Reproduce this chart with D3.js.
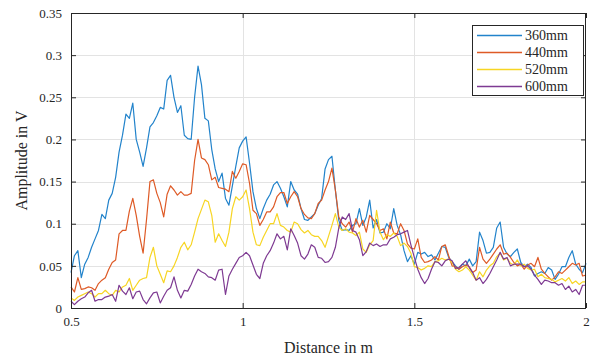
<!DOCTYPE html>
<html>
<head>
<meta charset="utf-8">
<script src="https://cdn.jsdelivr.net/npm/d3@7"></script>
<style>
  body { margin: 0; background: #fff; }
  svg text { font-family: "Liberation Serif", "Times New Roman", serif; fill: #262626; }
  .grid line { stroke: #e3e3e3; stroke-width: 1; }
  .series { fill: none; stroke-width: 1.2; stroke-linejoin: round; }
</style>
</head>
<body>
<div id="chart"></div>
<script>
// sampling step of the distance axis, in m
var step = 0.01;
var startDist = 0.5;

var seriesNames = ['360mm', '440mm', '520mm', '600mm'];
var seriesColors = ['#2283cb', '#de5a26', '#f7d523', '#7e3a92'];

var amp360 = [
  0.042, 0.062, 0.068, 0.036, 0.052, 0.060, 0.072, 0.082, 0.092, 0.111,
  0.106, 0.128, 0.136, 0.155, 0.185, 0.205, 0.230, 0.225, 0.243, 0.200,
  0.185, 0.168, 0.190, 0.215, 0.220, 0.228, 0.238, 0.236, 0.270, 0.276,
  0.250, 0.232, 0.240, 0.205, 0.201, 0.200, 0.250, 0.287, 0.265, 0.225,
  0.222, 0.188, 0.165, 0.150, 0.160, 0.130, 0.122, 0.145, 0.168, 0.190,
  0.198, 0.203, 0.172, 0.138, 0.118, 0.106, 0.118, 0.128, 0.135, 0.146,
  0.150, 0.142, 0.132, 0.120, 0.150, 0.140, 0.135, 0.118, 0.105, 0.104,
  0.108, 0.112, 0.122, 0.130, 0.165, 0.176, 0.180, 0.140, 0.104, 0.092,
  0.093, 0.092, 0.098, 0.100, 0.118, 0.098, 0.108, 0.128, 0.095, 0.105,
  0.089, 0.090, 0.100, 0.094, 0.118, 0.098, 0.087, 0.068, 0.055, 0.062,
  0.052, 0.066, 0.064, 0.066, 0.061, 0.063, 0.057, 0.065, 0.073, 0.072,
  0.060, 0.055, 0.050, 0.046, 0.052, 0.050, 0.058, 0.050, 0.055, 0.090,
  0.080, 0.065, 0.066, 0.072, 0.095, 0.102, 0.072, 0.064, 0.061, 0.066,
  0.070, 0.054, 0.049, 0.052, 0.048, 0.038, 0.041, 0.043, 0.041, 0.048,
  0.045, 0.034, 0.040, 0.049, 0.049, 0.060, 0.068, 0.052, 0.046, 0.042,
  0.053
];

var amp440 = [
  0.025, 0.019, 0.036, 0.022, 0.023, 0.025, 0.024, 0.021, 0.029, 0.033,
  0.036, 0.046, 0.054, 0.057, 0.088, 0.092, 0.092, 0.115, 0.130, 0.110,
  0.085, 0.065, 0.105, 0.150, 0.152, 0.136, 0.125, 0.108, 0.135, 0.145,
  0.140, 0.134, 0.138, 0.134, 0.134, 0.136, 0.175, 0.200, 0.178, 0.176,
  0.170, 0.152, 0.155, 0.143, 0.142, 0.141, 0.138, 0.162, 0.154, 0.162,
  0.171, 0.170, 0.148, 0.116, 0.112, 0.098, 0.105, 0.114, 0.114, 0.120,
  0.132, 0.137, 0.137, 0.124, 0.132, 0.138, 0.132, 0.118, 0.111, 0.107,
  0.106, 0.112, 0.124, 0.128, 0.140, 0.150, 0.166, 0.140, 0.108, 0.100,
  0.096, 0.102, 0.090, 0.106, 0.096, 0.104, 0.090, 0.110, 0.105, 0.100,
  0.092, 0.094, 0.082, 0.102, 0.089, 0.088, 0.100, 0.092, 0.076, 0.071,
  0.070, 0.082, 0.060, 0.054, 0.055, 0.057, 0.061, 0.057, 0.073, 0.075,
  0.062, 0.050, 0.049, 0.046, 0.049, 0.051, 0.049, 0.042, 0.045, 0.072,
  0.058, 0.053, 0.058, 0.064, 0.070, 0.075, 0.064, 0.065, 0.060, 0.054,
  0.050, 0.052, 0.046, 0.051, 0.053, 0.049, 0.060, 0.046, 0.041, 0.037,
  0.033, 0.037, 0.043, 0.041, 0.045, 0.049, 0.053, 0.051, 0.053, 0.038,
  0.039
];

var amp520 = [
  0.012, 0.009, 0.013, 0.015, 0.017, 0.019, 0.017, 0.013, 0.017, 0.017,
  0.021, 0.017, 0.015, 0.021, 0.019, 0.025, 0.027, 0.035, 0.021, 0.027,
  0.033, 0.035, 0.036, 0.060, 0.072, 0.050, 0.040, 0.030, 0.044, 0.043,
  0.050, 0.060, 0.072, 0.078, 0.069, 0.075, 0.090, 0.106, 0.117, 0.128,
  0.126, 0.110, 0.078, 0.088, 0.080, 0.073, 0.090, 0.118, 0.132, 0.128,
  0.132, 0.140, 0.118, 0.090, 0.075, 0.074, 0.084, 0.092, 0.100, 0.100,
  0.112, 0.098, 0.096, 0.092, 0.090, 0.102, 0.100, 0.093, 0.089, 0.092,
  0.087, 0.085, 0.085, 0.080, 0.072, 0.085, 0.098, 0.112, 0.096, 0.092,
  0.094, 0.090, 0.089, 0.086, 0.090, 0.070, 0.066, 0.075, 0.080, 0.116,
  0.090, 0.081, 0.087, 0.085, 0.089, 0.085, 0.074, 0.077, 0.073, 0.065,
  0.049, 0.048, 0.045, 0.047, 0.050, 0.049, 0.055, 0.056, 0.059, 0.057,
  0.058, 0.054, 0.046, 0.043, 0.045, 0.049, 0.045, 0.039, 0.033, 0.043,
  0.037, 0.045, 0.050, 0.053, 0.061, 0.065, 0.057, 0.059, 0.053, 0.051,
  0.057, 0.050, 0.052, 0.047, 0.045, 0.046, 0.037, 0.040, 0.036, 0.035,
  0.034, 0.031, 0.033, 0.035, 0.032, 0.036, 0.029, 0.032, 0.028, 0.031,
  0.031
];

var amp600 = [
  0.008, 0.004, 0.008, 0.011, 0.013, 0.018, 0.021, 0.008, 0.010, 0.010,
  0.013, 0.014, 0.016, 0.008, 0.027, 0.020, 0.016, 0.024, 0.011, 0.019,
  0.020, 0.010, 0.005, 0.012, 0.018, 0.019, 0.006, 0.014, 0.021, 0.024,
  0.037, 0.021, 0.012, 0.021, 0.020, 0.028, 0.038, 0.046, 0.043, 0.041,
  0.037, 0.036, 0.033, 0.045, 0.046, 0.016, 0.038, 0.046, 0.053, 0.060,
  0.062, 0.066, 0.062, 0.051, 0.040, 0.035, 0.053, 0.062, 0.068, 0.077,
  0.088, 0.082, 0.085, 0.069, 0.094, 0.086, 0.077, 0.062, 0.058, 0.064,
  0.075, 0.072, 0.060, 0.059, 0.054, 0.055, 0.060, 0.072, 0.095, 0.108,
  0.105, 0.112, 0.092, 0.090, 0.081, 0.062, 0.067, 0.077, 0.074, 0.076,
  0.073, 0.075, 0.075, 0.082, 0.084, 0.087, 0.088, 0.090, 0.092, 0.075,
  0.060, 0.046, 0.036, 0.029, 0.035, 0.046, 0.055, 0.054, 0.050, 0.056,
  0.058, 0.056, 0.047, 0.048, 0.052, 0.056, 0.048, 0.042, 0.033, 0.036,
  0.029, 0.034, 0.041, 0.049, 0.057, 0.066, 0.058, 0.060, 0.050, 0.052,
  0.052, 0.052, 0.049, 0.050, 0.046, 0.039, 0.034, 0.028, 0.033, 0.032,
  0.030, 0.030, 0.027, 0.029, 0.022, 0.026, 0.019, 0.022, 0.016, 0.027,
  0.027
];

var xTicks = [0.5, 1, 1.5, 2];
var yTicks = [0, 0.05, 0.1, 0.15, 0.2, 0.25, 0.3, 0.35];

var settings = {
  width: 599,
  height: 358,
  left: 71,
  right: 586,
  top: 13,
  bottom: 308,
  tick_len: 5,
  serif: 'Liberation Serif, serif'
};

var allSeries = [amp360, amp440, amp520, amp600];

var svg = d3.select('#chart').append('svg')
  .attr('width', settings.width)
  .attr('height', settings.height);

var x = d3.scaleLinear().domain([0.5, 2]).range([settings.left, settings.right]);
var y = d3.scaleLinear().domain([0, 0.35]).range([settings.bottom, settings.top]);

// grid
var grid = svg.append('g').attr('class', 'grid');
grid.selectAll('line.gx').data(xTicks.slice(1, -1)).enter().append('line')
  .attr('x1', function(d) { return Math.round(x(d)) + 0.5; })
  .attr('x2', function(d) { return Math.round(x(d)) + 0.5; })
  .attr('y1', settings.top).attr('y2', settings.bottom);
grid.selectAll('line.gy').data(yTicks.slice(1, -1)).enter().append('line')
  .attr('x1', settings.left).attr('x2', settings.right)
  .attr('y1', function(d) { return Math.round(y(d)) + 0.5; })
  .attr('y2', function(d) { return Math.round(y(d)) + 0.5; });

// data lines
var line = d3.line()
  .x(function(d, i) { return x(startDist + i * step); })
  .y(function(d) { return y(d); });

svg.append('g').selectAll('path').data(allSeries).enter().append('path')
  .attr('class', 'series')
  .attr('stroke', function(d, i) { return seriesColors[i]; })
  .attr('d', line);

// axes, MATLAB style box with inward ticks
var tl = settings.tick_len;
var bottomAxis = d3.axisBottom(x).tickValues(xTicks).tickSizeInner(-tl).tickSizeOuter(0).tickPadding(9)
  .tickFormat(d3.format('~g'));
var topAxis = d3.axisTop(x).tickValues(xTicks).tickSizeInner(-tl).tickSizeOuter(0).tickFormat('');
var leftAxis = d3.axisLeft(y).tickValues(yTicks).tickSizeInner(-tl).tickSizeOuter(0).tickPadding(9)
  .tickFormat(d3.format('~g'));
var rightAxis = d3.axisRight(y).tickValues(yTicks).tickSizeInner(-tl).tickSizeOuter(0).tickFormat('');

function styleAxis(g) {
  g.attr('font-family', settings.serif).attr('font-size', 13);
  g.select('.domain').remove();
  g.selectAll('line').attr('stroke', '#262626');
  g.selectAll('text').attr('fill', '#262626');
}

svg.append('g').attr('transform', 'translate(0,' + settings.bottom + ')').call(bottomAxis).call(styleAxis);
svg.append('g').attr('transform', 'translate(0,' + settings.top + ')').call(topAxis).call(styleAxis);
svg.append('g').attr('transform', 'translate(' + settings.left + ',0)').call(leftAxis).call(styleAxis);
svg.append('g').attr('transform', 'translate(' + settings.right + ',0)').call(rightAxis).call(styleAxis);

svg.append('rect')
  .attr('x', settings.left + 0.5).attr('y', settings.top + 0.5)
  .attr('width', settings.right - settings.left - 1)
  .attr('height', settings.bottom - settings.top)
  .attr('fill', 'none').attr('stroke', '#262626').attr('stroke-width', 1);

// axis labels
svg.append('text')
  .attr('x', (settings.left + settings.right) / 2)
  .attr('y', 353)
  .attr('text-anchor', 'middle')
  .style('font-size', '16px')
  .text('Distance in m');

svg.append('text')
  .attr('transform', 'translate(27,' + ((settings.top + settings.bottom) / 2) + ') rotate(-90)')
  .attr('text-anchor', 'middle')
  .style('font-size', '16px')
  .text('Amplitude in V');

// legend
var legend = svg.append('g').attr('transform', 'translate(472,25)');
legend.append('rect')
  .attr('x', 0.5).attr('y', 0.5).attr('width', 111).attr('height', 70)
  .attr('fill', '#fff').attr('stroke', '#262626');

var item = legend.selectAll('g.item').data(seriesNames).enter().append('g')
  .attr('class', 'item')
  .attr('transform', function(d, i) { return 'translate(0,' + (10.5 + i * 17) + ')'; });

item.append('line')
  .attr('x1', 5).attr('x2', 50).attr('y1', 0).attr('y2', 0)
  .attr('stroke-width', 1.3)
  .attr('stroke', function(d, i) { return seriesColors[i]; });

item.append('text')
  .attr('x', 53).attr('y', 4.5)
  .style('font-size', '14px')
  .text(function(d) { return d; });
</script>
</body>
</html>
